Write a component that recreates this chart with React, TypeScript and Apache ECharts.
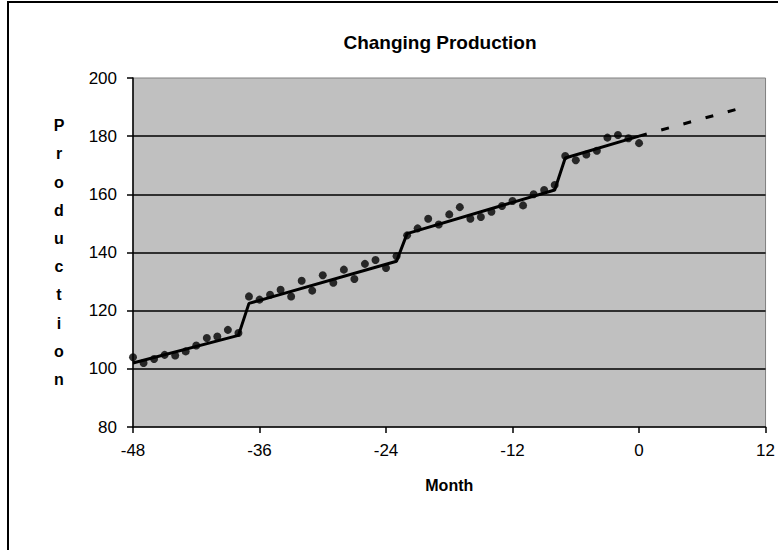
import React, { useEffect, useRef } from "react";
import * as echarts from "echarts";

// Observed monthly production, months -48 .. 0
const months: number[] = [
  -48, -47, -46, -45, -44, -43, -42, -41, -40, -39, -38, -37, -36, -35, -34, -33, -32,
  -31, -30, -29, -28, -27, -26, -25, -24, -23, -22, -21, -20, -19, -18, -17, -16, -15,
  -14, -13, -12, -11, -10, -9, -8, -7, -6, -5, -4, -3, -2, -1, 0,
];
const production: number[] = [
  104, 102, 103.4, 104.8, 104.6, 106, 108, 110.6, 111.1, 113.4, 112.3, 124.9, 123.8,
  125.5, 127.2, 124.9, 130.3, 126.9, 132.2, 129.6, 134.1, 130.9, 136.1, 137.4, 134.7,
  138.7, 145.9, 148.3, 151.6, 149.6, 153.1, 155.6, 151.6, 152.2, 154, 156, 157.7, 156.2,
  160, 161.5, 163.2, 173.2, 171.7, 173.7, 175, 179.5, 180.4, 179.3, 177.6,
];

// Fitted trend with level shifts (knot months and values)
const fitMonths: number[] = [-48, -38, -37, -23, -22, -8, -7, 0];
const fitValues: number[] = [102, 111.5, 122.5, 137, 146.5, 161.5, 172.5, 180];

// Forecast beyond month 0
const forecastMonths: number[] = [0, 10];
const forecastValues: number[] = [180, 190];

const gridValues: number[] = [100, 120, 140, 160, 180];

const FONT = "'Liberation Sans', Arial, sans-serif";

export default function App() {
  const ref = useRef<HTMLDivElement>(null);

  useEffect(() => {
    if (!ref.current) return;
    const chart = echarts.init(ref.current, undefined, { renderer: "svg" });
    const pair = (xs: number[], ys: number[]) => xs.map((x, i) => [x, ys[i]]);

    chart.setOption({
      animation: false,
      backgroundColor: "#ffffff",
      textStyle: { fontFamily: FONT },
      graphic: [
        {
          type: "rect",
          shape: { x: 8, y: 2, width: 900, height: 700 },
          style: { fill: "none", stroke: "#000000", lineWidth: 2 },
          z: 100,
          silent: true,
        },
        {
          type: "text",
          x: 440,
          y: 42,
          style: {
            text: "Changing Production",
            font: `bold 19px ${FONT}`,
            fill: "#000000",
            align: "center",
            verticalAlign: "middle",
          },
        },
      ],
      grid: {
        left: 133,
        right: 10,
        top: 78,
        bottom: 123,
        show: true,
        backgroundColor: "#C0C0C0",
        borderColor: "#808080",
        borderWidth: 1,
      },
      xAxis: {
        type: "value",
        min: -48,
        max: 12,
        interval: 12,
        name: "Month",
        nameLocation: "middle",
        nameGap: 50,
        nameTextStyle: { fontFamily: FONT, fontWeight: "bold", fontSize: 16, color: "#000" },
        axisLine: { show: true, onZero: false, lineStyle: { color: "#000", width: 1.5 } },
        axisTick: { show: true, inside: false, length: 6, lineStyle: { color: "#000", width: 1.5 } },
        axisLabel: { color: "#000", fontSize: 17, fontFamily: FONT, margin: 15 },
        splitLine: { show: false },
      },
      yAxis: {
        type: "value",
        min: 80,
        max: 200,
        interval: 20,
        name: "P\nr\no\nd\nu\nc\nt\ni\no\nn",
        nameLocation: "middle",
        nameRotate: 0,
        nameGap: 74,
        nameTextStyle: {
          fontFamily: FONT,
          fontWeight: "bold",
          fontSize: 16,
          color: "#000",
          lineHeight: 28.2,
          align: "center",
          verticalAlign: "middle",
          padding: [0, 0, 10, 0],
        },
        axisLine: { show: true, onZero: false, lineStyle: { color: "#000", width: 1.5 } },
        axisTick: { show: true, inside: false, length: 6, lineStyle: { color: "#000", width: 1.5 } },
        axisLabel: { color: "#000", fontSize: 17, fontFamily: FONT, margin: 16 },
        splitLine: { show: false },
      },
      series: [
        {
          type: "line",
          name: "grid",
          data: [],
          silent: true,
          markLine: {
            silent: true,
            symbol: ["none", "none"],
            label: { show: false },
            lineStyle: { color: "#000", width: 1.5, type: "solid" },
            data: gridValues.map((v) => ({ yAxis: v })),
          },
        },
        {
          type: "line",
          name: "Forecast",
          data: pair(forecastMonths, forecastValues),
          showSymbol: false,
          symbol: "none",
          lineStyle: { color: "#000", width: 3, type: [8, 15] },
          z: 3,
        },
        {
          type: "line",
          name: "Fit",
          data: pair(fitMonths, fitValues),
          showSymbol: false,
          symbol: "none",
          lineStyle: { color: "#000", width: 3 },
          z: 4,
        },
        {
          type: "scatter",
          name: "Production",
          data: pair(months, production),
          symbol: "circle",
          symbolSize: 8,
          itemStyle: { color: "#000" },
          z: 5,
        },
      ],
    });

    return () => chart.dispose();
  }, []);

  return (
    <div
      ref={ref}
      style={{ position: "absolute", left: 0, top: 0, width: 778, height: 550, background: "#fff" }}
    />
  );
}
